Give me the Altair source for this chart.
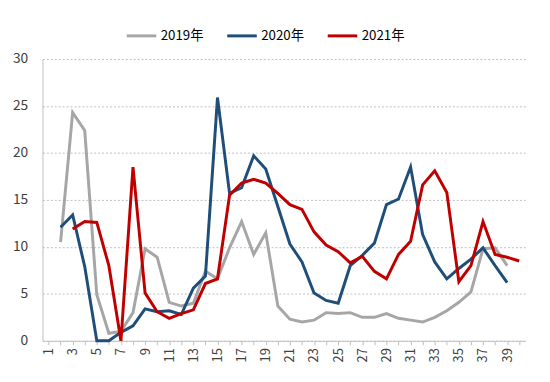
import altair as alt
import pandas as pd

weeks = list(range(1, 41))
s2019 = [None, 10.5, 24.3, 22.4, 4.9, 0.8, 1.0, 3.0, 9.8, 8.9,
         4.1, 3.7, 4.0, 7.4, 6.6, 9.9, 12.7, 9.2, 11.5, 3.7,
         2.3, 2.0, 2.2, 3.0, 2.9, 3.0, 2.5, 2.5, 2.9, 2.4,
         2.2, 2.0, 2.5, 3.2, 4.1, 5.2, 9.8, 9.9, 8.0, None]
s2020 = [None, 12.1, 13.4, 7.9, 0.0, 0.0, 0.9, 1.6, 3.4, 3.1,
         3.2, 2.8, 5.6, 6.9, 25.9, 15.7, 16.3, 19.7, 18.3, 14.3,
         10.3, 8.4, 5.1, 4.3, 4.0, 8.0, 9.1, 10.4, 14.5, 15.1,
         18.5, 11.3, 8.4, 6.6, 7.7, 8.7, 9.9, 8.0, 6.2, None]
s2021 = [None, None, 11.9, 12.7, 12.6, 8.0, 0.0, 18.5, 5.1, 3.1,
         2.4, 2.9, 3.3, 6.1, 6.6, 15.5, 16.8, 17.2, 16.8, 15.7,
         14.5, 14.0, 11.6, 10.2, 9.5, 8.3, 9.0, 7.4, 6.6, 9.2,
         10.6, 16.6, 18.1, 15.8, 6.3, 8.0, 12.7, 9.2, 8.9, 8.5]
series_names = ["2019年", "2020年", "2021年"]
colors = ["#a6a6a6", "#1f4e79", "#c00000"]

rows = []
for name, vals in zip(series_names, [s2019, s2020, s2021]):
    for w, v in zip(weeks, vals):
        if v is not None:
            rows.append({"week": w, "value": v, "series": name})
df = pd.DataFrame(rows)

font = "Noto Sans CJK SC"

chart = alt.Chart(df).mark_line(strokeWidth=3).encode(
    x=alt.X("week:O", title=None,
            scale=alt.Scale(domain=weeks, type="point", padding=0.5),
            axis=alt.Axis(labelAngle=270, labelExpr="datum.value % 2 == 1 ? datum.label : ''",
                          domainColor="#bfbfbf", tickColor="#bfbfbf", tickSize=4,
                          labelFontSize=13, labelColor="#404040", labelPadding=3,
                          labelFont=font, grid=False)),
    y=alt.Y("value:Q", title=None,
            scale=alt.Scale(domain=[0, 30], nice=False),
            axis=alt.Axis(values=[0, 5, 10, 15, 20, 25, 30], ticks=False,
                          domain=True, domainColor="#bfbfbf",
                          gridColor="#bfbfbf", gridDash=[2, 2], gridWidth=1,
                          labelFontSize=14, labelColor="#404040", labelPadding=15,
                          labelFont=font)),
    color=alt.Color("series:N", title=None,
                    scale=alt.Scale(domain=series_names, range=colors),
                    legend=alt.Legend(orient="none", direction="horizontal",
                                      legendX=84, legendY=-40,
                                      symbolType="stroke", symbolSize=900,
                                      symbolStrokeWidth=3, labelFontSize=13.5,
                                      labelFont=font, labelColor="#000000",
                                      columnPadding=17, labelOffset=3)),
).properties(
    width=490, height=286,
    autosize=alt.AutoSizeParams(type="none"),
    padding={"left": 35, "top": 49, "right": 17, "bottom": 39},
).configure_view(stroke=None)

chart.save("out.html", embed_options={"renderer": "svg", "actions": False})
